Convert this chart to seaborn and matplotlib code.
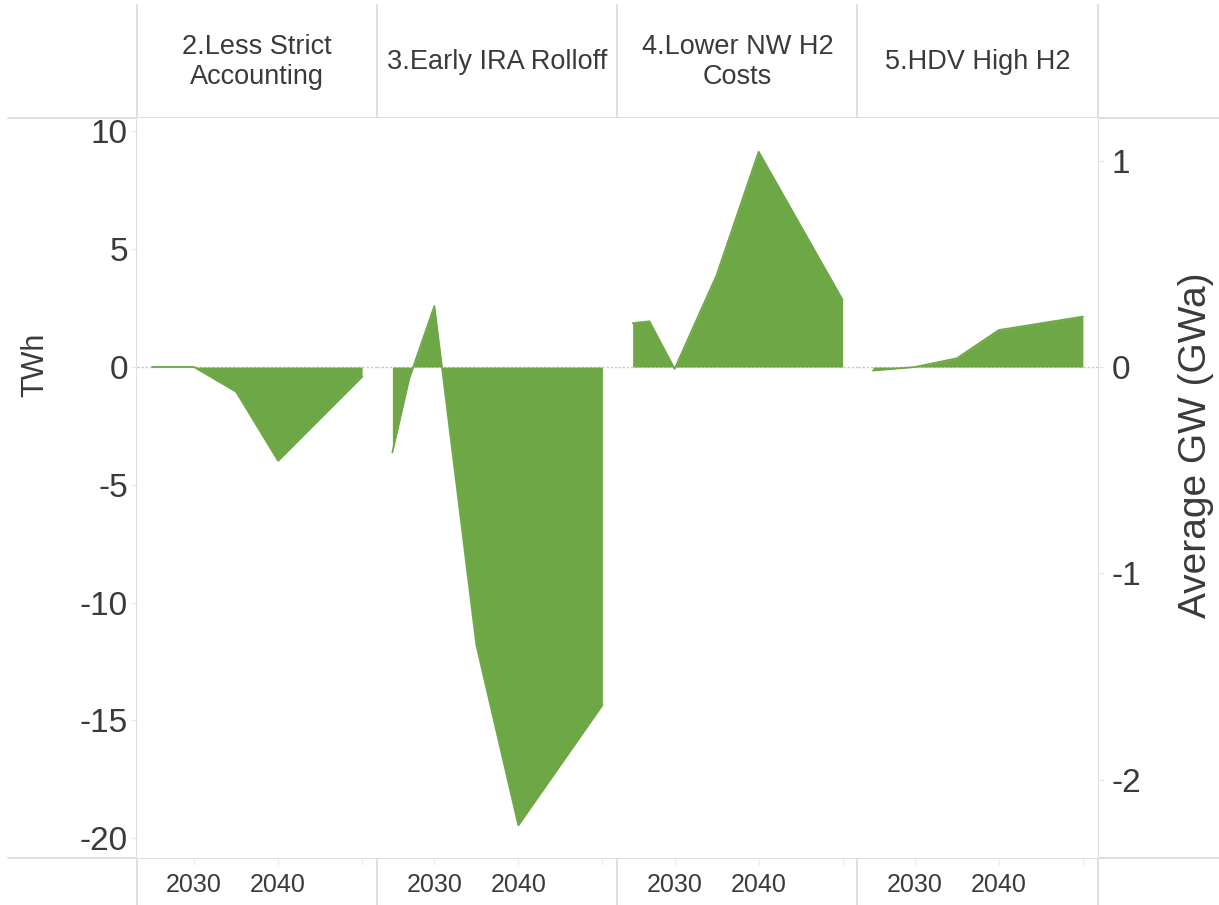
import numpy as np
import pandas as pd
import matplotlib
matplotlib.use("Agg")
import matplotlib.pyplot as plt
from matplotlib.lines import Line2D
import seaborn as sns

# ---------------- data ----------------
years = [2025, 2027, 2030, 2035, 2040, 2050]
scenarios = ["2.Less Strict\nAccounting", "3.Early IRA Rolloff",
             "4.Lower NW H2\nCosts", "5.HDV High H2"]
less_strict = [0.0, 0.0, 0.0, -1.05, -3.98, -0.41]
early_ira = [-3.62, -0.5, 2.59, -11.8, -19.45, -14.35]
lower_nw_h2 = [1.86, 1.94, -0.08, 3.9, 9.14, 2.85]
hdv_high_h2 = [-0.15, -0.09, 0.0, 0.37, 1.57, 2.14]
twh_per_gwa = 8.76
twh_ticks = [-20, -15, -10, -5, 0, 5, 10]
gwa_ticks = [-2, -1, 0, 1]
year_ticks = [2030, 2040, 2050]
year_labels = ["2030", "2040", ""]

series = [less_strict, early_ira, lower_nw_h2, hdv_high_h2]
df = pd.DataFrame({
    "scenario": np.repeat(scenarios, len(years)),
    "year": years * len(scenarios),
    "twh": np.concatenate(series),
})

# ---------------- style ----------------
sns.set_theme(style="white")
plt.rcParams["font.family"] = ["Liberation Sans", "DejaVu Sans"]
text_col = "#3a3a3a"
grid_col = "#d9d9d9"
green = "#6EA846"

W, H = 1219, 905
g = sns.FacetGrid(df, col="scenario", col_order=scenarios, sharex=True,
                  sharey=True, despine=False, height=4, aspect=0.5)


def area(data, **kw):
    ax = plt.gca()
    ax.fill_between(data["year"], data["twh"], 0, color=green, lw=0, zorder=2)
    sns.lineplot(data=data, x="year", y="twh", color=green, lw=1.3, ax=ax,
                 zorder=3)


g.map_dataframe(area)
fig = g.figure
fig.set_size_inches(W / 100, H / 100)
fig.set_dpi(100)
L, R, T, B = 137, 1098, 118, 858
fig.subplots_adjust(left=L / W, right=R / W, top=1 - T / H, bottom=1 - B / H,
                    wspace=0)

ylim = (-20.84, 10.57)

# right axis (GWa)
last = g.axes.flat[-1]
axr = last.twinx()
axr.set_ylim(ylim[0] / twh_per_gwa, ylim[1] / twh_per_gwa)
axr.set_yticks(gwa_ticks)
axr.set_yticklabels([str(t) for t in gwa_ticks])
axr.tick_params(axis="y", length=4, width=0.8, color="#e6e6e6",
                labelsize=24, labelcolor=text_col, pad=6, right=True,
                left=False, labelleft=False)
for s in axr.spines.values():
    s.set_visible(False)
axr.grid(False)

for i, ax in enumerate(g.axes.flat):
    ax.set_xlim(2023.2, 2051.8)
    ax.set_ylim(*ylim)
    ax.set_title("")
    ax.set_xlabel("")
    ax.set_ylabel("")
    for s in ax.spines.values():
        s.set_visible(False)
    ax.axhline(0, color="#c4c4c4", lw=1.0, ls=(0, (1.5, 1.5)), zorder=1)
    ax.set_xticks(year_ticks)
    ax.set_xticklabels(year_labels)
    ax.tick_params(axis="x", length=5, width=0.8, color="#ececec",
                   labelsize=18, labelcolor=text_col, pad=6, direction="out",
                   bottom=True)
    ax.text(0.5, 1 + 56 / 740, scenarios[i], transform=ax.transAxes,
            ha="center", va="center", fontsize=19.5, color=text_col,
            linespacing=1.25)
    if i == 0:
        ax.set_yticks(twh_ticks)
        ax.set_yticklabels([str(t) for t in twh_ticks])
        ax.tick_params(axis="y", length=4, width=0.8, color="#e6e6e6",
                       labelsize=24, labelcolor=text_col, pad=2.5, left=True,
                       right=False)
    else:
        ax.tick_params(axis="y", left=False, right=False, labelleft=False)

# left y label
fig.text(35 / W, 1 - 365 / H, "TWh", rotation=90, ha="center", va="center",
         fontsize=22, color=text_col)
fig.text(1196 / W, 1 - 445 / H, "Average GW (GWa)", rotation=90, ha="center",
         va="center", fontsize=28, color=text_col)

# frame lines (Tableau-like)
for xp in [137, 377, 617, 857, 1098]:
    fig.add_artist(Line2D([xp / W, xp / W], [1 - 5 / H, 0], color=grid_col,
                          lw=1.2, zorder=0))
for yp in [118, 858]:
    fig.add_artist(Line2D([8 / W, 1], [1 - yp / H, 1 - yp / H], color=grid_col,
                          lw=1.2, zorder=0))

fig.savefig("out.png", dpi=100, facecolor="white")
